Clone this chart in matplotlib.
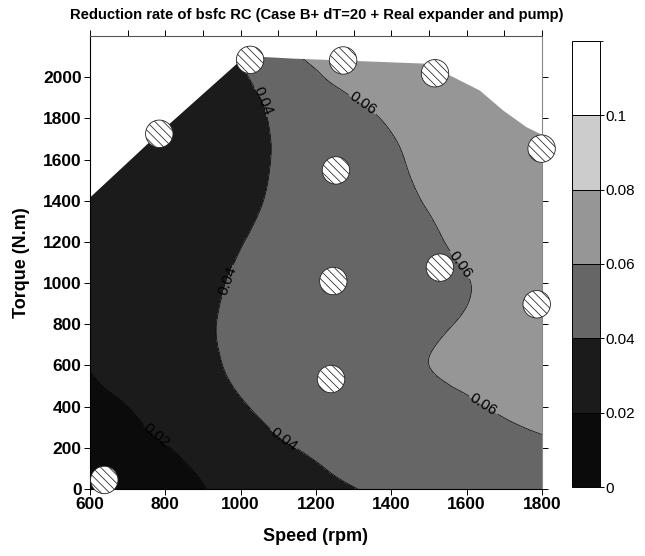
import numpy as np
import matplotlib.pyplot as plt
import matplotlib.tri as mtri
from matplotlib.colors import ListedColormap, BoundaryNorm
from matplotlib.cm import ScalarMappable
from matplotlib.patches import Polygon

plt.rcParams['font.family'] = ['Liberation Sans', 'DejaVu Sans']
plt.rcParams['hatch.linewidth'] = 0.55

# grid of reduction rate values (rows = torque, cols = speed)
speed_grid = [600, 700, 800, 900, 1000, 1100, 1200, 1300, 1400, 1500, 1600, 1700, 1800]
torque_grid = [0, 200, 400, 600, 800, 1000, 1200, 1400, 1600, 1800, 2000, 2200]
rate_rows = [
    [0.008, 0.011, 0.0145, 0.0195, 0.025, 0.029, 0.0345, 0.0395, 0.044, 0.048, 0.051, 0.0535, 0.0555],
    [0.013, 0.0165, 0.0195, 0.024, 0.0295, 0.037, 0.043, 0.048, 0.051, 0.0535, 0.0555, 0.057, 0.0585],
    [0.017, 0.020, 0.0245, 0.030, 0.038, 0.0465, 0.051, 0.0535, 0.0555, 0.057, 0.0588, 0.0612, 0.0635],
    [0.0205, 0.025, 0.029, 0.035, 0.0445, 0.050, 0.053, 0.0555, 0.058, 0.060, 0.0625, 0.065, 0.0675],
    [0.024, 0.027, 0.031, 0.037, 0.045, 0.049, 0.052, 0.054, 0.056, 0.058, 0.0615, 0.066, 0.070],
    [0.026, 0.029, 0.032, 0.036, 0.0425, 0.047, 0.050, 0.0525, 0.0545, 0.0565, 0.0595, 0.065, 0.070],
    [0.027, 0.030, 0.033, 0.0355, 0.0395, 0.0445, 0.048, 0.051, 0.0545, 0.058, 0.063, 0.067, 0.0705],
    [0.028, 0.0305, 0.0325, 0.035, 0.0375, 0.042, 0.047, 0.0515, 0.056, 0.061, 0.0655, 0.069, 0.072],
    [0.029, 0.031, 0.033, 0.035, 0.037, 0.041, 0.046, 0.051, 0.0575, 0.064, 0.068, 0.071, 0.0735],
    [0.030, 0.032, 0.0335, 0.0355, 0.0375, 0.0415, 0.048, 0.055, 0.062, 0.067, 0.070, 0.0725, 0.075],
    [0.031, 0.033, 0.035, 0.037, 0.039, 0.047, 0.058, 0.065, 0.068, 0.071, 0.073, 0.075, 0.077],
    [0.032, 0.034, 0.036, 0.038, 0.041, 0.063, 0.067, 0.069, 0.071, 0.073, 0.075, 0.077, 0.079],
]

# operating points
pt_speed = [638, 784, 1025, 1272, 1516, 1799, 1253, 1246, 1529, 1786, 1240]
pt_torque = [44, 1725, 2084, 2081, 2019, 1653, 1547, 1010, 1075, 897, 534]

# outline of the covered map
edge_speed = [600, 600, 785, 990, 1020, 1060, 1140, 1270, 1485, 1556, 1635, 1697, 1759, 1800, 1800]
edge_torque = [0, 1415, 1730, 2065, 2090, 2098, 2090, 2081, 2066, 2008, 1935, 1838, 1757, 1720, 0]

levels = [0, 0.02, 0.04, 0.06, 0.08, 0.1, 0.12]
tick_levels = [0, 0.02, 0.04, 0.06, 0.08, 0.1]
tick_names = ['0', '0.02', '0.04', '0.06', '0.08', '0.1']
band_colors = ['#0b0b0b', '#1b1b1b', '#666666', '#969696', '#cccccc', '#ffffff']
line_levels = [0.02, 0.04, 0.06]

# label spots along the isolines
label_spots = [(1051, 1879), (1330, 1887), (963, 1014), (1582, 1087),
               (1644, 407), (1118, 254), (777, 262)]

fig = plt.figure(figsize=(6.45, 5.56), dpi=100)
ax = fig.add_axes([0.1395, 0.1205, 0.7008, 0.8148])

S, T = np.meshgrid(speed_grid, torque_grid)
Z = np.array(rate_rows)
nr, nc = Z.shape
tris = []
for i in range(nr - 1):
    for j in range(nc - 1):
        a = i * nc + j
        tris.append([a, a + 1, a + nc + 1])
        tris.append([a, a + nc + 1, a + nc])
tri = mtri.Triangulation(S.ravel().astype(float), T.ravel().astype(float), tris)
interp = mtri.CubicTriInterpolator(tri, Z.ravel())
tri_f, z_f = mtri.UniformTriRefiner(tri).refine_field(Z.ravel(), triinterpolator=interp, subdiv=4)

fill_levels = [-1] + levels[1:-1] + [1]
cs = ax.tricontourf(tri_f, z_f, levels=fill_levels, colors=band_colors)
cl = ax.tricontour(tri_f, z_f, levels=line_levels, colors='k', linewidths=0.5)

outline = Polygon(np.column_stack([edge_speed, edge_torque]), closed=True,
                  transform=ax.transData)
cs.set_clip_path(outline)
cl.set_clip_path(outline)

ax.clabel(cl, fmt='%g', fontsize=11, inline=True, inline_spacing=2,
          manual=label_spots)

ax.scatter(pt_speed, pt_torque, s=390, facecolor='white', edgecolor='#222222',
           linewidth=0.6, hatch='\\\\\\\\', zorder=5, clip_on=False)

ax.set_xlim(600, 1800)
ax.set_ylim(0, 2200)
ax.set_xticks(range(600, 1801, 200))
ax.set_xticks(range(600, 1801, 100), minor=True)
ax.set_yticks(range(0, 2001, 200))
ax.tick_params(axis='x', which='both', direction='out', top=True, length=4.5, width=0.7)
ax.tick_params(axis='x', which='minor', bottom=False)
ax.tick_params(axis='y', direction='out', right=True, length=4.5, width=0.7)
ax.tick_params(labelsize=12.5, pad=1.5)
for lab in ax.get_xticklabels() + ax.get_yticklabels():
    lab.set_fontweight('bold')
for side in ['left', 'bottom']:
    ax.spines[side].set_linewidth(0.8)
ax.spines['top'].set_color('#555555')
ax.spines['right'].set_color('#888888')

ax.set_xlabel('Speed (rpm)', fontsize=13, fontweight='bold', labelpad=11)
ax.set_ylabel('Torque (N.m)', fontsize=13, fontweight='bold', labelpad=9)
fig.text(0.491, 1 - 15 / 556, 'Reduction rate of bsfc RC (Case B+ dT=20 + Real expander and pump)',
         ha='center', va='center', fontsize=10.6, fontweight='bold')

# colour scale
cax = fig.add_axes([0.8868, 0.1241, 0.0434, 0.8022])
sm = ScalarMappable(norm=BoundaryNorm(levels, len(band_colors)), cmap=ListedColormap(band_colors))
cb = fig.colorbar(sm, cax=cax, drawedges=True, ticks=tick_levels)
cb.ax.set_yticklabels(tick_names)
cb.ax.tick_params(labelsize=11, length=3, width=0.7, pad=1)
cb.outline.set_linewidth(0.7)
cb.dividers.set_linewidth(0.7)

fig.savefig('out.png', dpi=100)
